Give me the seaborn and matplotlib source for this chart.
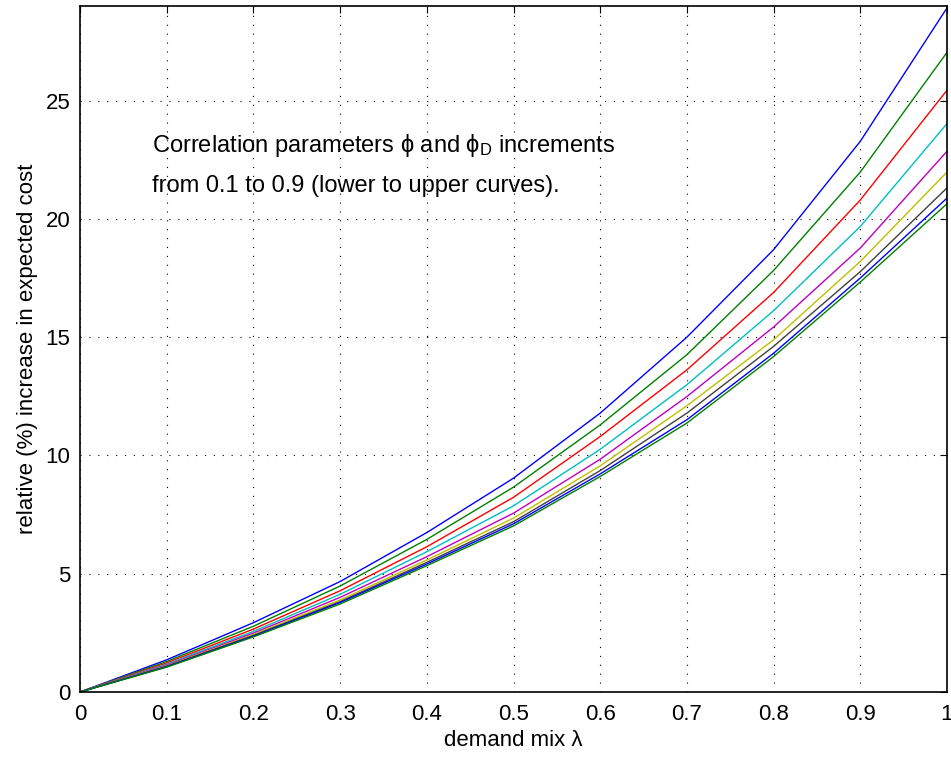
import numpy as np
import pandas as pd
import matplotlib
matplotlib.use("Agg")
import matplotlib.pyplot as plt
import seaborn as sns

lam = [0.0, 0.1, 0.2, 0.3, 0.4, 0.5, 0.6, 0.7, 0.8, 0.9, 1.0]
phi_09 = [0, 1.36, 2.93, 4.67, 6.74, 9.04, 11.79, 15.00, 18.70, 23.28, 28.92]
phi_08 = [0, 1.29, 2.78, 4.48, 6.45, 8.66, 11.29, 14.26, 17.82, 21.98, 27.04]
phi_07 = [0, 1.23, 2.66, 4.28, 6.14, 8.23, 10.80, 13.62, 16.89, 20.80, 25.44]
phi_06 = [0, 1.18, 2.56, 4.13, 5.93, 7.87, 10.26, 12.99, 16.12, 19.68, 24.03]
phi_05 = [0, 1.14, 2.49, 4.00, 5.72, 7.56, 9.84, 12.49, 15.43, 18.77, 22.86]
phi_04 = [0, 1.11, 2.43, 3.89, 5.58, 7.35, 9.56, 12.10, 14.89, 18.20, 21.98]
phi_03 = [0, 1.09, 2.39, 3.82, 5.48, 7.20, 9.36, 11.79, 14.61, 17.77, 21.31]
phi_02 = [0, 1.07, 2.36, 3.78, 5.41, 7.11, 9.22, 11.51, 14.32, 17.50, 20.88]
phi_01 = [0, 1.05, 2.33, 3.72, 5.34, 7.02, 9.11, 11.37, 14.18, 17.33, 20.64]

series = {"0.9": phi_09, "0.8": phi_08, "0.7": phi_07, "0.6": phi_06,
          "0.5": phi_05, "0.4": phi_04, "0.3": phi_03, "0.2": phi_02, "0.1": phi_01}
colors = [(0, 0, 1), (0, 0.5, 0), (1, 0, 0), (0, 0.75, 0.75), (0.75, 0, 0.75),
          (0.75, 0.75, 0), (0.25, 0.25, 0.25), (0, 0, 1), (0, 0.5, 0)]

rows = []
for k, v in series.items():
    for x, y in zip(lam, v):
        rows.append({"lam": x, "val": y, "phi": k})
df = pd.DataFrame(rows)

sns.set_style("white")
plt.rcParams["font.family"] = ["Liberation Sans", "DejaVu Sans"]
plt.rcParams["text.color"] = "black"
plt.rcParams["axes.labelcolor"] = "black"
plt.rcParams["mathtext.fontset"] = "custom"
plt.rcParams["mathtext.rm"] = "Liberation Sans"
plt.rcParams["mathtext.it"] = "Liberation Sans:italic"

fig = plt.figure(figsize=(9.51, 7.59), dpi=100)
ax = fig.add_axes([80/951, 1-692/759, 867/951, 686/759])

sns.lineplot(data=df, x="lam", y="val", hue="phi", hue_order=list(series.keys()),
             palette=colors, legend=False, ax=ax, linewidth=1.0)

ax.set_xlim(0, 1)
ax.set_ylim(0, 29)
ax.set_xticks(lam)
ax.set_xticklabels(["0", "0.1", "0.2", "0.3", "0.4", "0.5", "0.6", "0.7", "0.8", "0.9", "1"])
ax.set_yticks([0, 5, 10, 15, 20, 25])
ax.tick_params(direction="in", length=5, width=0.8, top=True, right=True,
               labelsize=16, colors="black", labelcolor="black")
ax.tick_params(axis="x", pad=9)
ax.tick_params(axis="y", pad=7)
for s in ax.spines.values():
    s.set_linewidth(1.2)
    s.set_color("black")
ax.grid(True, linestyle=(0, (1, 7)), color="black", linewidth=0.8)
ax.set_axisbelow(True)

ax.set_xlabel("demand mix λ", fontsize=16, labelpad=3)
ax.set_ylabel("relative (%) increase in expected cost", fontsize=16, labelpad=5)

ax.text(0.083, 23.1, r"Correlation parameters ϕ and ϕ$_{\mathrm{D}}$ increments",
        fontsize=17, va="center", ha="left", color="black")
ax.text(0.083, 21.4, "from 0.1 to 0.9 (lower to upper curves).",
        fontsize=17, va="center", ha="left", color="black")

fig.savefig("out.png", dpi=100)
